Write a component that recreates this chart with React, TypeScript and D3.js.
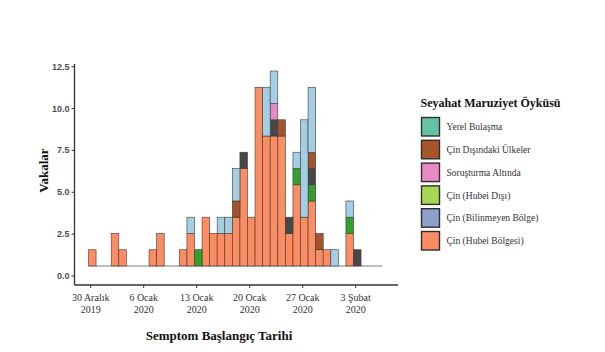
import * as d3 from "d3";

const onsetDates = [
  "2019-12-30", "2020-01-02", "2020-01-03", "2020-01-07", "2020-01-08",
  "2020-01-11", "2020-01-12", "2020-01-13", "2020-01-14", "2020-01-15",
  "2020-01-16", "2020-01-17", "2020-01-18", "2020-01-19", "2020-01-20",
  "2020-01-21", "2020-01-22", "2020-01-23", "2020-01-24", "2020-01-25",
  "2020-01-26", "2020-01-27", "2020-01-28", "2020-01-29", "2020-01-30",
  "2020-01-31", "2020-02-02", "2020-02-03",
];

// counts per onset date, one array per travel history group
const hubeiBolgesi = [1, 2, 1, 1, 2, 1, 2, 0, 3, 2, 2, 2, 3, 6, 3, 11, 8, 8, 8, 2, 5, 3, 4, 1, 1, 0, 2, 0];
const hubeiDisi = [0, 0, 0, 0, 0, 0, 0, 1, 0, 0, 0, 0, 0, 0, 0, 0, 0, 0, 0, 0, 1, 0, 1, 0, 0, 0, 1, 0];
const yerel = [0, 0, 0, 0, 0, 0, 0, 0, 0, 0, 0, 0, 0, 1, 0, 0, 0, 1, 0, 1, 0, 0, 1, 0, 0, 0, 0, 1];
const disUlkeler = [0, 0, 0, 0, 0, 0, 0, 0, 0, 0, 0, 0, 1, 0, 0, 0, 0, 0, 1, 0, 0, 0, 1, 1, 0, 0, 0, 0];
const sorusturma = [0, 0, 0, 0, 0, 0, 0, 0, 0, 0, 0, 0, 0, 0, 0, 0, 0, 1, 0, 0, 0, 0, 0, 0, 0, 0, 0, 0];
const bilinmeyen = [0, 0, 0, 0, 0, 0, 1, 0, 0, 0, 1, 1, 2, 0, 0, 0, 3, 2, 0, 0, 1, 6, 4, 0, 0, 1, 1, 0];

const seriesKeys = ["hubeiBolgesi", "hubeiDisi", "yerel", "disUlkeler", "sorusturma", "bilinmeyen"];
const barColors: Record<string, string> = {
  hubeiBolgesi: "#fc8d62",
  hubeiDisi: "#33a02c",
  yerel: "#474747",
  disUlkeler: "#a6522a",
  sorusturma: "#e78ac3",
  bilinmeyen: "#a6cee3",
};

const legendLabels = [
  "Yerel Bulaşma",
  "Çin Dışındaki Ülkeler",
  "Soruşturma Altında",
  "Çin (Hubei Dışı)",
  "Çin (Bilinmeyen Bölge)",
  "Çin (Hubei Bölgesi)",
];
const legendColors = ["#66c2a5", "#a6562a", "#e78ac3", "#a6d854", "#8da0cb", "#fc8d62"];

const tickDates = ["2019-12-30", "2020-01-06", "2020-01-13", "2020-01-20", "2020-01-27", "2020-02-03"];
const tickLabels = [
  ["30 Aralık", "2019"],
  ["6 Ocak", "2020"],
  ["13 Ocak", "2020"],
  ["20 Ocak", "2020"],
  ["27 Ocak", "2020"],
  ["3 Şubat", "2020"],
];
const yTicks = [0, 2.5, 5, 7.5, 10, 12.5];

const parse = d3.timeParse("%Y-%m-%d");

export default function App() {
  const width = 605;
  const height = 352;

  const x = d3
    .scaleTime()
    .domain([parse(tickDates[0])!, parse(tickDates[5])!])
    .range([90.7, 355.7]);

  const y = d3.scaleLinear().domain([0, 12.5]).range([276, 66.7]);
  // bars in the source start a little above zero
  const yBar = d3.scaleLinear().domain([0, 12]).range([y(0.6), y(12.24)]);

  const rows = onsetDates.map((d, i) => ({
    date: parse(d)!,
    hubeiBolgesi: hubeiBolgesi[i],
    hubeiDisi: hubeiDisi[i],
    yerel: yerel[i],
    disUlkeler: disUlkeler[i],
    sorusturma: sorusturma[i],
    bilinmeyen: bilinmeyen[i],
  }));
  const stacked = d3.stack<any>().keys(seriesKeys)(rows);

  const axisX = 74.5;
  const axisY = 285;
  const axisRight = 398;

  const baseStart = x(d3.timeHour.offset(parse(onsetDates[0])!, -7));
  const baseEnd = x(d3.timeHour.offset(parse(tickDates[5])!, 3 * 24 + 12));

  return (
    <svg
      width={width}
      height={height}
      style={{ position: "absolute", left: 0, top: 0, background: "#fff" }}
    >
      {/* baseline under bars */}
      <line x1={baseStart} x2={baseEnd} y1={yBar(0)} y2={yBar(0)} stroke="#a8a8a8" strokeWidth={1.5} />

      {/* stacked bars */}
      {stacked.map((s) => (
        <g key={s.key} fill={barColors[s.key]}>
          {s
            .filter((d) => d[1] > d[0])
            .map((d, i) => {
              const x0 = x(d3.timeHour.offset(d.data.date, -7));
              const x1 = x(d3.timeHour.offset(d.data.date, 17));
              return (
                <rect
                  key={i}
                  x={x0}
                  width={x1 - x0}
                  y={yBar(d[1])}
                  height={yBar(d[0]) - yBar(d[1])}
                  stroke="#3a3a3a"
                  strokeOpacity={0.85}
                  strokeWidth={0.7}
                />
              );
            })}
        </g>
      ))}

      {/* axes */}
      <line x1={axisX} x2={axisX} y1={64} y2={axisY} stroke="#333" strokeWidth={1.3} />
      <line x1={axisX} x2={axisRight} y1={axisY} y2={axisY} stroke="#333" strokeWidth={1.3} />

      {yTicks.map((t) => (
        <g key={t} transform={`translate(0,${y(t)})`}>
          <line x1={axisX - 3} x2={axisX} stroke="#333" strokeWidth={1} />
          <text
            x={axisX - 5}
            dy="0.34em"
            textAnchor="end"
            fontFamily="Liberation Sans, Arial, sans-serif"
            fontWeight="bold"
            fontSize={9}
            fill="#4d4d4d"
          >
            {t.toFixed(1)}
          </text>
        </g>
      ))}

      {tickDates.map((d, i) => (
        <g key={d} transform={`translate(${x(parse(d)!)},${axisY})`}>
          <line y1={0} y2={3} stroke="#333" strokeWidth={1} />
          <text
            textAnchor="middle"
            fontFamily="Liberation Serif, Times New Roman, serif"
            fontSize={10}
            fill="#333"
          >
            <tspan x={0} y={16}>{tickLabels[i][0]}</tspan>
            <tspan x={0} y={28}>{tickLabels[i][1]}</tspan>
          </text>
        </g>
      ))}

      {/* axis titles */}
      <text
        x={219}
        y={340}
        textAnchor="middle"
        fontFamily="Liberation Serif, Times New Roman, serif"
        fontWeight="bold"
        fontSize={13}
        fill="#111"
      >
        Semptom Başlangıç Tarihi
      </text>
      <text
        transform={`translate(48,${y(6.3)}) rotate(-90)`}
        textAnchor="middle"
        fontFamily="Liberation Serif, Times New Roman, serif"
        fontWeight="bold"
        fontSize={13}
        fill="#111"
      >
        Vakalar
      </text>

      {/* legend */}
      <text
        x={420.5}
        y={106.5}
        fontFamily="Liberation Serif, Times New Roman, serif"
        fontWeight="bold"
        fontSize={12}
        fill="#111"
      >
        Seyahat Maruziyet Öyküsü
      </text>
      {legendLabels.map((label, i) => (
        <g key={label} transform={`translate(421.5,${117.5 + i * 22.8})`}>
          <rect width={18} height={18.5} fill={legendColors[i]} stroke="#2e2e2e" strokeWidth={1.4} />
          <text
            x={25}
            y={9.5}
            dy="0.34em"
            fontFamily="Liberation Serif, Times New Roman, serif"
            fontSize={9.5}
            fill="#333"
          >
            {label}
          </text>
        </g>
      ))}
    </svg>
  );
}
